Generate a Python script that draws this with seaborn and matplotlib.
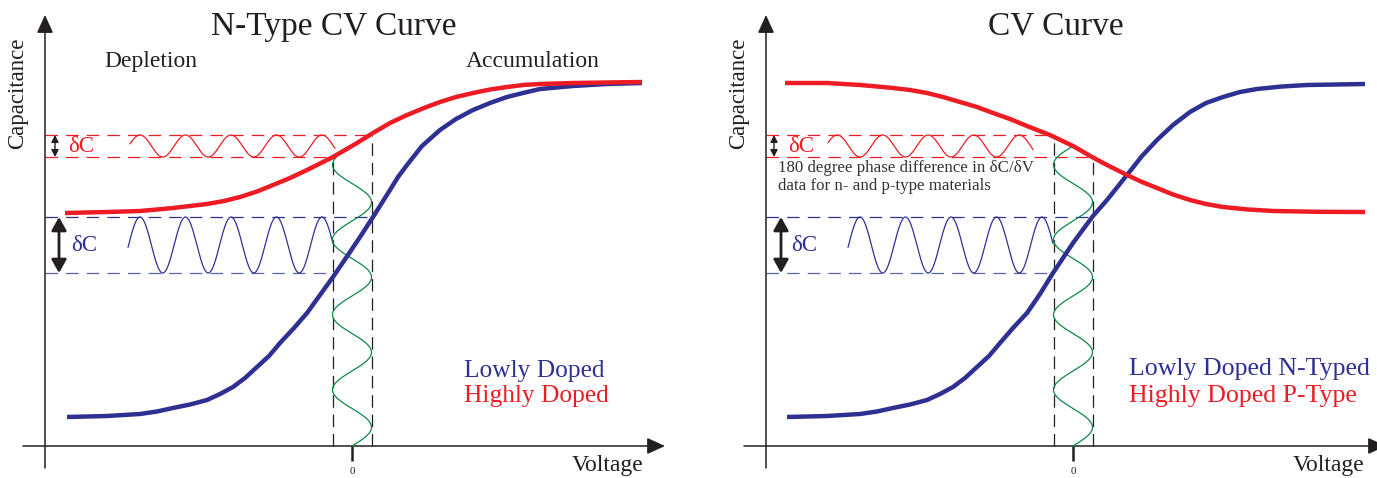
import numpy as np
import pandas as pd
import matplotlib
matplotlib.use("Agg")
import matplotlib.pyplot as plt
import seaborn as sns

# ---------------- data (voltage in V, capacitance in arbitrary units) ----------------
# Panel 1: N-type, lowly vs highly doped
n_low_v = [-2.85, -2.45, -2.12, -1.95, -1.79, -1.62, -1.45, -1.32, -1.19, -1.07, -0.95,
           -0.83, -0.72, -0.58, -0.45, -0.32, -0.19, -0.02, 0.10, 0.21, 0.38, 0.46,
           0.55, 0.70, 0.88, 1.04, 1.21, 1.38, 1.55, 1.71, 1.88, 2.21, 2.55, 2.90]
n_low_c = [0.29, 0.30, 0.32, 0.345, 0.38, 0.415, 0.46, 0.52, 0.59, 0.68, 0.79,
           0.90, 1.03, 1.18, 1.33, 1.51, 1.69, 1.94, 2.12, 2.29, 2.56, 2.69,
           2.81, 3.00, 3.16, 3.27, 3.36, 3.43, 3.49, 3.53, 3.57, 3.60, 3.62, 3.63]
n_high_v = [-2.87, -2.45, -2.12, -1.95, -1.79, -1.62, -1.45, -1.28, -1.12, -0.95, -0.79,
            -0.62, -0.45, -0.32, -0.19, 0.05, 0.21, 0.38, 0.55, 0.72, 0.88, 1.04,
            1.21, 1.38, 1.55, 1.71, 1.88, 2.21, 2.55, 2.90]
n_high_c = [2.33, 2.34, 2.35, 2.365, 2.38, 2.40, 2.42, 2.45, 2.49, 2.545, 2.61,
            2.68, 2.76, 2.825, 2.89, 3.03, 3.13, 3.23, 3.31, 3.38, 3.44, 3.49,
            3.53, 3.565, 3.59, 3.61, 3.62, 3.63, 3.635, 3.64]

# Panel 2: lowly doped N-type vs highly doped P-type
cv_low_v = [-2.86, -2.46, -2.13, -1.96, -1.80, -1.63, -1.46, -1.33, -1.20, -1.08, -0.96,
            -0.84, -0.73, -0.60, -0.46, -0.33, -0.20, 0.00, 0.20, 0.34, 0.54, 0.69,
            0.84, 1.00, 1.17, 1.33, 1.50, 1.67, 1.84, 2.09, 2.34, 2.92]
cv_low_c = [0.29, 0.30, 0.32, 0.345, 0.38, 0.415, 0.46, 0.52, 0.59, 0.68, 0.79,
            0.90, 1.03, 1.18, 1.33, 1.52, 1.73, 2.03, 2.30, 2.46, 2.71, 2.90,
            3.06, 3.21, 3.34, 3.43, 3.49, 3.54, 3.57, 3.595, 3.61, 3.62]
cv_high_v = [-2.88, -2.46, -2.13, -1.96, -1.80, -1.63, -1.46, -1.30, -1.13, -0.96, -0.80,
             -0.63, -0.46, -0.23, 0.00, 0.19, 0.34, 0.54, 0.69, 0.84, 1.00, 1.17,
             1.33, 1.50, 1.75, 2.00, 2.46, 2.92]
cv_high_c = [3.63, 3.63, 3.61, 3.595, 3.58, 3.56, 3.53, 3.49, 3.44, 3.39, 3.33,
             3.27, 3.20, 3.11, 3.00, 2.89, 2.81, 2.71, 2.64, 2.58, 2.515, 2.46,
             2.42, 2.39, 2.365, 2.35, 2.342, 2.34]

# δC bands (capacitance swing for the highly / lowly doped sample)
high_band = [2.89, 3.11]
low_band = [1.73, 2.29]
# small-signal voltage window around 0 V
v_window = [-0.195, 0.195]

titles = ["N-Type CV Curve", "CV Curve"]
legend_low = ["Lowly Doped", "Lowly Doped N-Typed"]
legend_high = ["Highly Doped", "Highly Doped P-Type"]
region_labels = ["Depletion", "Accumulation"]
note_text = "180 degree phase difference in \u03b4C/\u03b4V\ndata for n- and p-type materials"
x_label = "Voltage"
y_label = "Capacitance"
tick_label = "0"

# ---------------- style ----------------
RED = "#ED1C24"
BLUE = "#2E3192"
BLUE_L = "#5A64B0"
GREEN = "#0B8A44"
INK = "#231F20"

sns.set_theme(style="white")
plt.rcParams["font.family"] = ["Liberation Serif", "DejaVu Serif"]

fig = plt.figure(figsize=(13.77, 4.78), dpi=100)
W = 1377.0
ax1 = fig.add_axes([0, 0, 688 / W, 1])
ax2 = fig.add_axes([688 / W, 0, 689 / W, 1])
ax1.set_xlim(-3.52, 3.36)
ax2.set_xlim(-3.85, 3.04)
for ax in (ax1, ax2):
    ax.set_ylim(-0.32, 4.46)
    ax.axis("off")

dash_h = (0, (10.0, 6.5))
dash_v = (0, (10.0, 5.5))


def axes_arrows(ax):
    arr = dict(arrowstyle="-|>,head_length=0.55,head_width=0.25", lw=1.1,
               color=INK, shrinkA=0, shrinkB=0, mutation_scale=20)
    ax.annotate("", xy=(-3.07, 4.31), xytext=(-3.07, -0.22), arrowprops=arr,
                annotation_clip=False)
    ax.annotate("", xy=(3.13, 0.0), xytext=(-3.29, 0.0), arrowprops=arr,
                annotation_clip=False)
    # zero tick
    ax.plot([0, 0], [0, -0.15], color=INK, lw=1.8, solid_capstyle="butt", clip_on=False)
    ax.text(0.005, -0.26, tick_label, ha="center", va="center", fontsize=8, color=INK)
    ax.text(2.20, -0.255, x_label, ha="left", va="baseline", fontsize=17, color=INK,
            clip_on=False)
    ax.text(-3.34, 3.53, y_label, ha="center", va="center", rotation=90,
            fontsize=16.5, color=INK)


def curves(ax, lv, lc, hv, hc):
    df = pd.concat([
        pd.DataFrame({"V": lv, "C": lc, "s": "low"}),
        pd.DataFrame({"V": hv, "C": hc, "s": "high"}),
    ])
    sns.lineplot(data=df, x="V", y="C", hue="s", palette={"low": BLUE, "high": RED},
                 sort=False, estimator=None, lw=3.2, legend=False, ax=ax,
                 solid_capstyle="butt", solid_joinstyle="round", zorder=5)
    ax.set_xlabel("")
    ax.set_ylabel("")


def waves(ax, red_span, red_peak, blue_span, blue_peak, green_top):
    period = 0.455
    v = np.linspace(red_span[0], red_span[1], 400)
    mid, amp = np.mean(high_band), (high_band[1] - high_band[0]) / 2
    ax.plot(v, mid + amp * np.cos(2 * np.pi * (v - red_peak) / period), color=RED, lw=0.9)
    v = np.linspace(blue_span[0], blue_span[1], 400)
    mid, amp = np.mean(low_band), (low_band[1] - low_band[0]) / 2
    ax.plot(v, mid + amp * np.cos(2 * np.pi * (v - blue_peak) / period), color=BLUE, lw=0.9)
    c = np.linspace(0, green_top, 600)
    ax.plot(0.195 * np.sin(2 * np.pi * c / 0.75), c, color=GREEN, lw=0.9, zorder=4)


def bands(ax, red_hi_end, red_lo_end, blue_hi_end, blue_lo_end, vl_top, vr_top):
    x0 = -3.07
    ax.plot([x0, red_hi_end], [high_band[1]] * 2, color=RED, lw=0.9, ls=dash_h)
    ax.plot([x0, red_lo_end], [high_band[0]] * 2, color=RED, lw=0.9, ls=dash_h)
    ax.plot([x0, blue_hi_end], [low_band[1]] * 2, color=BLUE, lw=0.9, ls=dash_h)
    ax.plot([x0, blue_lo_end], [low_band[0]] * 2, color=BLUE_L, lw=0.9, ls=dash_h)
    ax.plot([v_window[0]] * 2, [0, vl_top], color=INK, lw=0.9, ls=dash_v)
    ax.plot([v_window[1]] * 2, [0, vr_top], color=INK, lw=0.9, ls=dash_v)


def delta_labels(ax, red_arrow_x, blue_arrow_x, red_lbl_x, blue_lbl_x):
    ax.annotate("", xy=(red_arrow_x, high_band[1]), xytext=(red_arrow_x, high_band[0]),
                arrowprops=dict(arrowstyle="<|-|>,head_length=0.35,head_width=0.18",
                                lw=1.0, color=INK, shrinkA=0, shrinkB=0, mutation_scale=12))
    ax.annotate("", xy=(blue_arrow_x, low_band[1]), xytext=(blue_arrow_x, low_band[0]),
                arrowprops=dict(arrowstyle="<|-|>,head_length=0.5,head_width=0.28",
                                lw=2.0, color=INK, shrinkA=0, shrinkB=0, mutation_scale=16))
    ax.text(red_lbl_x, np.mean(high_band), "\u03b4C", color=RED, fontsize=16.5,
            ha="center", va="center")
    ax.text(blue_lbl_x, 2.01, "\u03b4C", color=BLUE, fontsize=16.5,
            ha="center", va="center")


# ---------------- panel 1 ----------------
axes_arrows(ax1)
bands(ax1, 0.21, -0.17, 0.21, -0.19, high_band[0], high_band[1])
waves(ax1, (-2.22, -0.17), -2.12, (-2.24, -0.19), -2.12, 2.89)
curves(ax1, n_low_v, n_low_c, n_high_v, n_high_c)
delta_labels(ax1, -2.97, -2.93, -2.71, -2.675)
ax1.text(-0.18, 4.11, titles[0], ha="center", va="baseline", fontsize=24, color=INK)
ax1.text(-2.01, 3.79, region_labels[0], ha="center", va="baseline", fontsize=17, color=INK)
ax1.text(1.805, 3.79, region_labels[1], ha="center", va="baseline", fontsize=17, color=INK)
ax1.text(1.12, 0.69, legend_low[0], ha="left", va="baseline", fontsize=18.3, color=BLUE)
ax1.text(1.12, 0.44, legend_high[0], ha="left", va="baseline", fontsize=18.3, color=RED)

# ---------------- panel 2 ----------------
axes_arrows(ax2)
bands(ax2, -0.20, 0.20, 0.20, -0.21, high_band[1], high_band[0])
waves(ax2, (-2.45, -0.40), -2.13 - 0.2275, (-2.25, -0.20), -2.13, 2.99)
curves(ax2, cv_low_v, cv_low_c, cv_high_v, cv_high_c)
delta_labels(ax2, -2.99, -2.92, -2.715, -2.685)
ax2.text(-0.17, 4.11, titles[1], ha="center", va="baseline", fontsize=24, color=INK)
ax2.text(-2.95, 2.69, note_text, ha="left", va="center", fontsize=12.2, color="#333333",
         linespacing=1.1)
ax2.text(0.56, 0.71, legend_low[1], ha="left", va="baseline", fontsize=18.6, color=BLUE)
ax2.text(0.56, 0.44, legend_high[1], ha="left", va="baseline", fontsize=18.6, color=RED)

fig.savefig("out.png", dpi=100)
